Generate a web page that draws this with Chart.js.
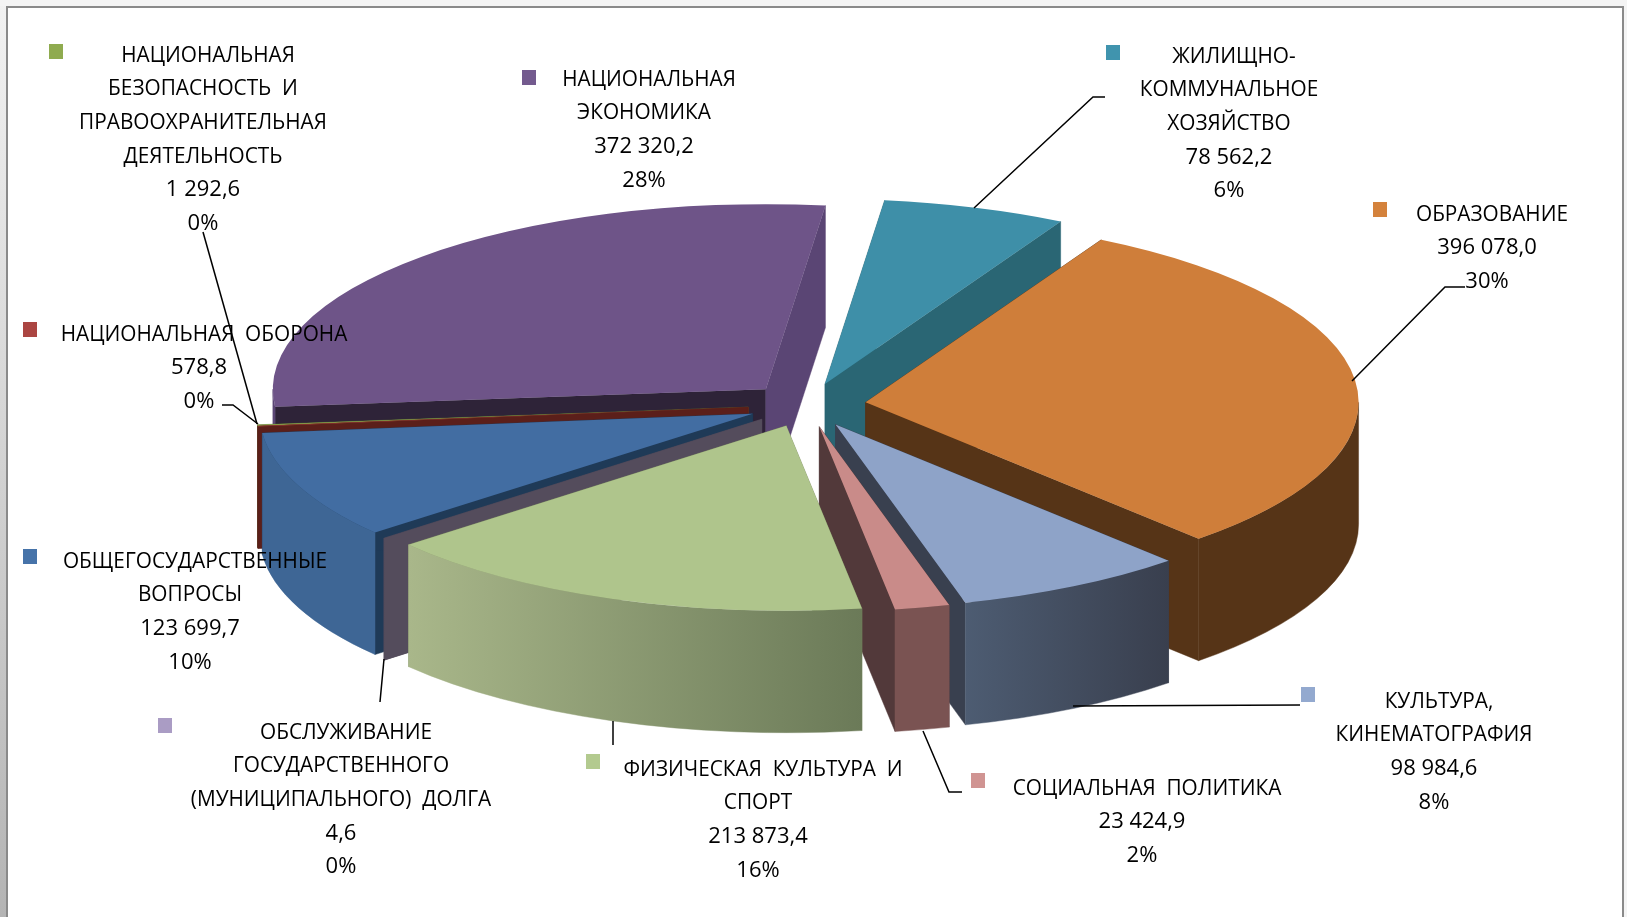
<!DOCTYPE html>
<html>
<head>
<meta charset="utf-8">
<style>
  html, body { margin: 0; padding: 0; background: #fff; overflow: hidden; }
  canvas { display: block; }
</style>
<script src="https://cdn.jsdelivr.net/npm/chart.js@4"></script>
</head>
<body>
<canvas id="pie" width="1627" height="917"></canvas>
<script>
// data
const categories = [
  ["ОБЩЕГОСУДАРСТВЕННЫЕ", "ВОПРОСЫ"],
  ["НАЦИОНАЛЬНАЯ  ОБОРОНА"],
  ["НАЦИОНАЛЬНАЯ", "БЕЗОПАСНОСТЬ  И", "ПРАВООХРАНИТЕЛЬНАЯ", "ДЕЯТЕЛЬНОСТЬ"],
  ["НАЦИОНАЛЬНАЯ", "ЭКОНОМИКА"],
  ["ЖИЛИЩНО-", "КОММУНАЛЬНОЕ", "ХОЗЯЙСТВО"],
  ["ОБРАЗОВАНИЕ"],
  ["КУЛЬТУРА,", "КИНЕМАТОГРАФИЯ"],
  ["СОЦИАЛЬНАЯ  ПОЛИТИКА"],
  ["ФИЗИЧЕСКАЯ  КУЛЬТУРА  И", "СПОРТ"],
  ["ОБСЛУЖИВАНИЕ", "ГОСУДАРСТВЕННОГО", "(МУНИЦИПАЛЬНОГО)  ДОЛГА"],
];
const values = [123699.7, 578.8, 1292.6, 372320.2, 78562.2, 396078.0, 98984.6, 23424.9, 213873.4, 4.6];
const percents = [10, 0, 0, 28, 6, 30, 8, 2, 16, 0];

// colours
const topColors = ["#426da2", "#a9403c", "#8fab4f", "#6e5488", "#3e8fa8", "#cf7e3a", "#8ea3c8", "#c98b89", "#afc58c", "#a899c1"];
const markerColors = ["#4673a9", "#ab4542", "#8fab4f", "#735a8e", "#4094ae", "#d4823c", "#93a9cf", "#d09492", "#b3ca8f", "#aa9cc4"];
const wallLeft = ["#3e6695", "#5b1f1a", "#5b6b33", "#5a4574", "#2a6674", "#563417", "#4d5c72", "#7a5352", "#a9b78a", "#544c5c"];
const wallRight = ["#3e6695", "#5b1f1a", "#5b6b33", "#5a4574", "#2a6674", "#563417", "#393f4e", "#7a5352", "#6b7a58", "#544c5c"];
const startFace = ["#1f3a57", "#5b1f1a", "#5b6b33", "#2e2338", "#2a6674", "#563417", "#39404f", "#52393a", "#7c8a60", "#544c5c"];
const endFace = ["#1f3a57", "#5b1f1a", "#5b6b33", "#5a4574", "#2a6674", "#563417", "#39404f", "#52393a", "#7c8a60", "#544c5c"];

// back slices first, so the front ones cover them
const drawOrder = [4, 3, 5, 2, 1, 0, 9, 6, 7, 8];

// layout of the 3d pie on the page
const PIE_X = 807, PIE_Y = 405, PIE_RX = 493, PIE_RY = 185, PIE_DEPTH = 122, EXPLODE = 59;

// layout of the labels: centre x, first line y, then the small square
const labelX = [190, 199, 203, 644, 1229, 1487, 1434, 1142, 758, 341];
const labelY = [561.5, 334.5, 55.5, 79.5, 56.5, 214.5, 701.5, 788.5, 769.5, 732.5];
const markerX = [23, 23, 49, 522, 1106, 1373, 1301, 971, 586, 158];
const markerY = [549, 322, 44, 70, 45, 202, 687, 773, 754, 718];
const LINE_H = 33.6;
const FIRST_LINE_SHIFT = 5; // the legend key pushes the first line to the right
const NAME_SQUEEZE = 0.945; // Open Sans capitals are wider than the original font

const leaders = [
  [[203, 232], [257, 424]],
  [[222, 405], [233, 405], [258, 424]],
  [[1105, 97], [1093, 97], [974, 208]],
  [[1465, 287], [1445, 287], [1352, 381]],
  [[1300, 705], [1073, 706]],
  [[962, 792], [949, 792], [923, 731]],
  [[613, 745], [613, 721]],
  [[380, 702], [384, 659]],
];

const fmt = v => {
  const [a, b] = v.toFixed(1).split(".");
  return a.replace(/\B(?=(\d{3})+$)/g, " ") + "," + b;
};

function drawFrame(ctx, w, h) {
  ctx.fillStyle = "#f4f4f4";
  ctx.fillRect(0, 0, w, h);
  const band = ctx.createLinearGradient(0, 0, 0, h);
  band.addColorStop(0, "#f2f2f2");
  band.addColorStop(1, "#b4b4b4");
  ctx.fillStyle = band;
  ctx.fillRect(0, 6, 7, h);
  ctx.fillStyle = "#fff";
  ctx.fillRect(7, 6, 1617, h);
  ctx.fillStyle = "#8a8a8a";
  ctx.fillRect(7, 6, 1617, 2);
  ctx.fillRect(6, 6, 2, h);
  ctx.fillRect(1622, 6, 2, h);
}

function drawFace(ctx, arc, angle, h, color) {
  const ex = arc.x + Math.cos(angle) * arc.outerRadius;
  const ey = arc.y + Math.sin(angle) * arc.outerRadius;
  ctx.fillStyle = color;
  ctx.strokeStyle = color;
  ctx.lineWidth = 0.6;
  ctx.beginPath();
  ctx.moveTo(arc.x, arc.y);
  ctx.lineTo(ex, ey);
  ctx.lineTo(ex, ey + h);
  ctx.lineTo(arc.x, arc.y + h);
  ctx.closePath();
  ctx.fill();
  ctx.stroke();
}

function drawRim(ctx, arc, i, h) {
  const r = arc.outerRadius;
  for (let k = 0; k < 2; k++) {
    const lo = Math.max(arc.startAngle, k * 2 * Math.PI);
    const hi = Math.min(arc.endAngle, k * 2 * Math.PI + Math.PI);
    if (lo >= hi) continue;
    const g = ctx.createLinearGradient(arc.x + r * Math.cos(hi), 0, arc.x + r * Math.cos(lo), 0);
    g.addColorStop(0, wallLeft[i]);
    g.addColorStop(1, wallRight[i]);
    ctx.fillStyle = g;
    ctx.strokeStyle = g;
    ctx.lineWidth = 0.6;
    ctx.beginPath();
    ctx.arc(arc.x, arc.y, r, lo, hi);
    ctx.arc(arc.x, arc.y + h, r, hi, lo, true);
    ctx.closePath();
    ctx.fill();
    ctx.stroke();
  }
}

const pie3d = {
  id: "pie3d",
  beforeDraw(chart) {
    drawFrame(chart.ctx, chart.width, chart.height);
  },
  beforeDatasetsDraw(chart) {
    const ctx = chart.ctx;
    const arcs = chart.getDatasetMeta(0).data;
    const first = arcs[0];
    const sx = PIE_RX / first.outerRadius, sy = PIE_RY / first.outerRadius;
    const h = PIE_DEPTH / sy;
    const e = EXPLODE / sx;
    const mid = a => (a.startAngle + a.endAngle) / 2;

    ctx.save();
    ctx.translate(PIE_X, PIE_Y);
    ctx.scale(sx, sy);
    ctx.translate(-first.x, -first.y);
    drawOrder.forEach(i => {
      const arc = arcs[i];
      ctx.save();
      ctx.translate(Math.cos(mid(arc)) * e, Math.sin(mid(arc)) * e);
      drawFace(ctx, arc, arc.startAngle, h, startFace[i]);
      drawFace(ctx, arc, arc.endAngle, h, endFace[i]);
      drawRim(ctx, arc, i, h);
      arc.draw(ctx);
      ctx.restore();
    });
    ctx.restore();
    return false; // the slices are already drawn
  },
  afterDraw(chart) {
    const ctx = chart.ctx;
    ctx.save();
    ctx.font = "22px 'Open Sans'";
    ctx.textAlign = "center";
    ctx.textBaseline = "middle";
    categories.forEach((lines, i) => {
      ctx.fillStyle = "#000";
      lines.forEach((t, n) => {
        const x = labelX[i] + (n === 0 ? FIRST_LINE_SHIFT : 0);
        ctx.fillText(t, x, labelY[i] + n * LINE_H, ctx.measureText(t).width * NAME_SQUEEZE);
      });
      ctx.fillText(fmt(values[i]), labelX[i], labelY[i] + lines.length * LINE_H);
      ctx.fillText(percents[i] + "%", labelX[i], labelY[i] + (lines.length + 1) * LINE_H);
      ctx.fillStyle = markerColors[i];
      ctx.fillRect(markerX[i], markerY[i], 14, 15);
    });
    ctx.strokeStyle = "#000";
    ctx.lineWidth = 1.5;
    leaders.forEach(pts => {
      ctx.beginPath();
      pts.forEach((p, n) => n ? ctx.lineTo(p[0], p[1]) : ctx.moveTo(p[0], p[1]));
      ctx.stroke();
    });
    ctx.restore();
  },
};

new Chart(document.getElementById("pie"), {
  type: "pie",
  data: {
    labels: categories.map(c => c.join(" ")),
    datasets: [{ data: values, backgroundColor: topColors, borderWidth: 0 }],
  },
  options: {
    responsive: false,
    animation: false,
    rotation: 230,
    layout: { padding: 0 },
    plugins: { legend: { display: false }, tooltip: { enabled: false } },
  },
  plugins: [pie3d],
});
</script>
</body>
</html>
